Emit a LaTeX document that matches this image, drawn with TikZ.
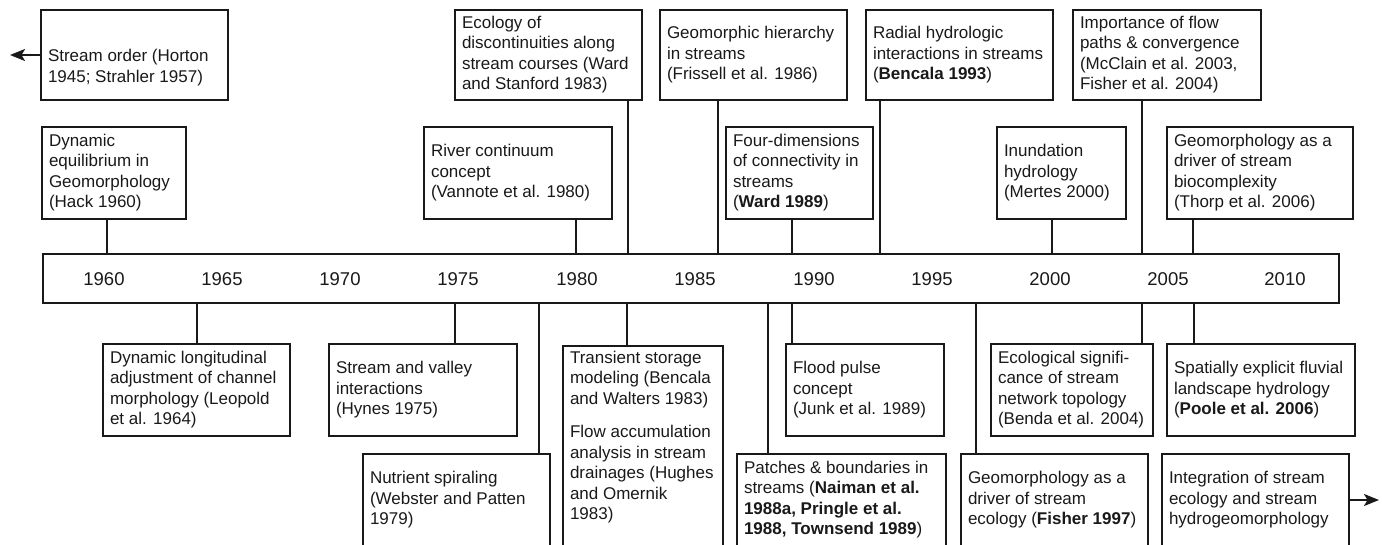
\documentclass[tikz,border=0pt]{standalone}
\usepackage{fontspec}
\setmainfont{Liberation Sans}
\usetikzlibrary{arrows.meta}
\definecolor{ink}{RGB}{25,25,25}
\tikzset{
  box/.style={draw=ink, line width=1.5pt, inner xsep=7pt, inner ysep=0pt, outer sep=0pt,
    font=\fontsize{17}{20.5}\selectfont, text=ink},
  conn/.style={draw=ink, line width=1.3pt},
  arr/.style={draw=ink, line width=2pt, -{Stealth[length=15pt,width=12pt,inset=3.5pt]}},
  yr/.style={font=\fontsize{18.5}{22}\selectfont, text=ink, inner sep=0pt},
}
\newcommand\bx[6]{%
  \pgfmathsetmacro\bxw{#4-#2}%
  \pgfmathsetmacro\bxh{#5-#3}%
  \pgfmathsetmacro\bxt{#4-#2-14}%
  \node[box, minimum width=\bxw pt, minimum height=\bxh pt, anchor=north west] (#1) at (#2,#3)
    {\makebox[\bxt pt][l]{\begin{tabular}{@{}l@{}}#6\end{tabular}}};}
\begin{document}
\begin{tikzpicture}[x=1pt,y=-1pt]
\useasboundingbox (0,0) rectangle (1382,544);
\clip (0,0) rectangle (1382,544);
% timeline bar
\node[draw=ink, line width=1.5pt, minimum width=1296pt, minimum height=49pt,
  anchor=north west, inner sep=0pt, outer sep=0pt] (bar) at (43,254) {};
\foreach \yr/\x in {1960/104,1965/222,1970/340,1975/458,1980/577,1985/695,1990/814,1995/932,2000/1050,2005/1168,2010/1285}
  \node[yr] (y\yr) at (\x,279) {\yr};
% top row 1
\bx{so}{41}{10}{228}{100}{\\[5pt] Stream order (Horton\\1945; Strahler 1957)}
\bx{eco}{455}{10}{642}{100}{Ecology of\\discontinuities along\\stream courses (Ward\\and Stanford 1983)}
\bx{geo}{660}{10}{847}{100}{Geomorphic hierarchy\\in streams\\(Frissell et al. 1986)}
\bx{rad}{866}{10}{1053}{100}{Radial hydrologic\\interactions in streams\\(\textbf{Bencala 1993})}
\bx{imp}{1073}{10}{1261}{100}{Importance of flow\\paths \& convergence\\(McClain et al. 2003,\\Fisher et al. 2004)}
% top row 2
\bx{dyn}{42}{127}{186}{219}{Dynamic\\equilibrium in\\Geomorphology\\(Hack 1960)}
\bx{riv}{424}{127}{612}{219}{River continuum\\concept\\(Vannote et al. 1980)}
\bx{four}{726}{127}{873}{219}{Four-dimensions\\of connectivity in\\streams\\(\textbf{Ward 1989})}
\bx{inu}{997}{127}{1126}{219}{Inundation\\hydrology\\(Mertes 2000)}
\bx{bio}{1167}{127}{1353}{219}{Geomorphology as a\\driver of stream\\biocomplexity\\(Thorp et al. 2006)}
% bottom row 1
\bx{lon}{103}{344}{290}{436}{Dynamic longitudinal\\adjustment of channel\\morphology (Leopold\\et al. 1964)}
\bx{val}{329}{344}{517}{436}{Stream and valley\\interactions\\(Hynes 1975)}
\bx{tra}{563}{346}{723}{546}{Transient storage\\modeling (Bencala\\and Walters 1983)\\[13pt]Flow accumulation\\analysis in stream\\drainages (Hughes\\and Omernik\\1983)\\[17pt]}
\bx{flo}{786}{344}{944}{436}{Flood pulse\\concept\\(Junk et al. 1989)}
\bx{ecs}{991}{344}{1153}{436}{Ecological signifi-\\cance of stream\\network topology\\(Benda et al. 2004)}
\bx{spa}{1167}{344}{1355}{436}{Spatially explicit fluvial\\landscape hydrology\\(\textbf{Poole et al. 2006})}
% bottom row 2
\bx{nut}{363}{454}{550}{546}{Nutrient spiraling\\(Webster and Patten\\1979)}
\bx{pat}{737}{454}{946}{546}{Patches \& boundaries in\\streams (\textbf{Naiman et al.}\\\textbf{1988a, Pringle et al.}\\\textbf{1988, Townsend 1989})}
\bx{gse}{961}{454}{1148}{546}{Geomorphology as a\\driver of stream\\ecology (\textbf{Fisher 1997})}
\bx{int}{1162}{454}{1349}{546}{Integration of stream\\ecology and stream\\hydrogeomorphology}
% connector x positions
\foreach \x in {628,718,880,1142,107,576,792,1052,1193,197,455,627,1194,539,768,976}
  \coordinate (x\x) at (\x,0);
% connectors above the bar
\foreach \n/\x in {eco/628,geo/718,rad/880,imp/1142,dyn/107,riv/576,four/792,inu/1052,bio/1193}
  \draw[conn] (\n.south -| x\x) -- (bar.north -| x\x);
% connectors below the bar
\foreach \n/\x in {lon/197,val/455,tra/627,flo/792,ecs/1142,spa/1194,nut/539,pat/768,gse/976}
  \draw[conn] (bar.south -| x\x) -- (\n.north -| x\x);
% arrows
\coordinate (L) at (10,55);
\coordinate (R) at (1379,500);
\draw[arr] (so.west) -- (L);
\draw[arr] (int.east) -- (R);
\end{tikzpicture}
\end{document}
